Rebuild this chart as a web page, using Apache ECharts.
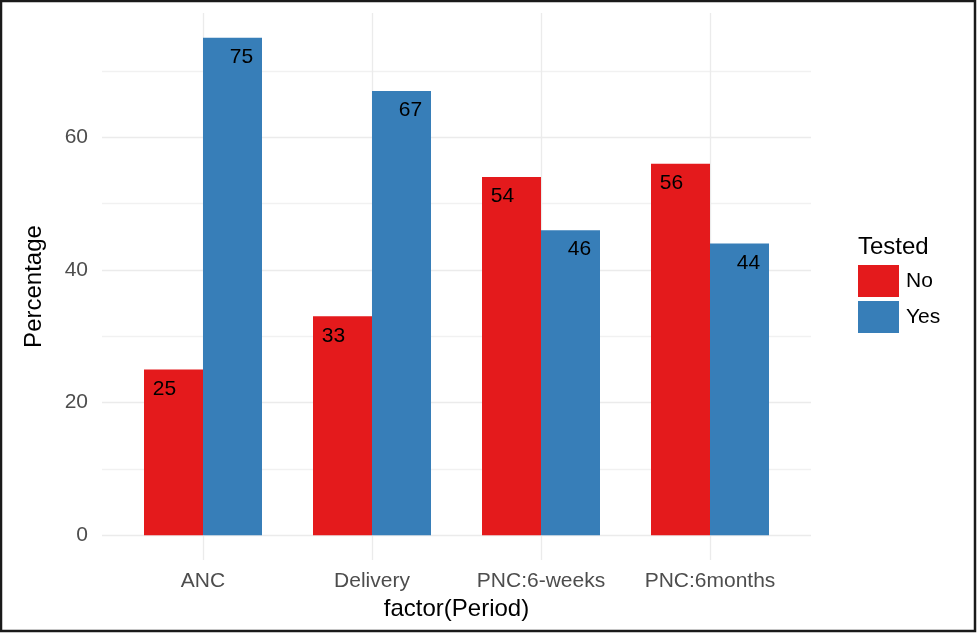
<!DOCTYPE html>
<html>
<head>
<meta charset="utf-8">
<script src="https://cdn.jsdelivr.net/npm/echarts@6/dist/echarts.min.js"></script>
<style>
html,body{margin:0;padding:0;background:#fff;}
#c{width:977px;height:633px;}
</style>
</head>
<body>
<div id="c"></div>
<script>
const categories = ['ANC', 'Delivery', 'PNC:6-weeks', 'PNC:6months'];
const seriesNames = ['No', 'Yes'];
const noValues = [25, 33, 54, 56];
const yesValues = [75, 67, 46, 44];
const yLabelTicks = [0, 20, 40, 60];
const yGridTicks = [0, 10, 20, 30, 40, 50, 60, 70];

const FONT = '"Liberation Sans", Arial, sans-serif';
const chart = echarts.init(document.getElementById('c'), null, {renderer: 'canvas'});

const labelCommon = {
  show: true,
  position: 'insideTop',
  distance: 9,
  color: '#000',
  fontFamily: FONT,
  fontSize: 21
};
const yMin = -3.75, yMax = 78.75;

chart.setOption({
  animation: false,
  backgroundColor: '#fff',
  grid: [
    {left: 102, right: 166, top: 13, bottom: 73, containLabel: false},
    {left: 118.5, right: 182.5, top: 13, bottom: 73, containLabel: false}
  ],
  xAxis: [
    {
      gridIndex: 0, type: 'value', min: 0, max: 1, show: false
    },
    {
      gridIndex: 1,
      type: 'category',
      data: categories,
      axisLine: {show: false},
      axisTick: {show: false},
      splitLine: {show: false},
      axisLabel: {color: '#4d4d4d', fontFamily: FONT, fontSize: 21, margin: 11, interval: 0, hideOverlap: false},
      name: 'factor(Period)',
      nameLocation: 'middle',
      nameGap: 36,
      nameTextStyle: {color: '#000', fontFamily: FONT, fontSize: 24}
    }
  ],
  yAxis: [
    {
      gridIndex: 0,
      type: 'value',
      min: yMin,
      max: yMax,
      axisLine: {show: false},
      axisTick: {show: false, customValues: yGridTicks},
      axisLabel: {color: '#4d4d4d', fontFamily: FONT, fontSize: 21, margin: 14, customValues: yLabelTicks},
      splitLine: {show: true, lineStyle: {color: ['#ebebeb', '#f1f1f1'], width: 1.3}},
      name: 'Percentage',
      nameLocation: 'middle',
      nameGap: 56,
      nameRotate: 90,
      nameTextStyle: {color: '#000', fontFamily: FONT, fontSize: 24}
    },
    {
      gridIndex: 1,
      type: 'value',
      min: yMin,
      max: yMax,
      show: false,
      splitLine: {show: false}
    }
  ],
  legend: {
    orient: 'vertical',
    left: 858,
    top: 265,
    icon: 'rect',
    itemWidth: 41,
    itemHeight: 32,
    itemGap: 4,
    padding: 0,
    textStyle: {color: '#000', fontFamily: FONT, fontSize: 21, padding: [0, 0, 0, 2]},
    data: seriesNames
  },
  graphic: [
    {type: 'text', left: 858, top: 235, style: {text: 'Tested', fill: '#000', font: '24px ' + FONT}},
    {type: 'rect', shape: {x: 1, y: 1, width: 974, height: 630}, style: {fill: 'none', stroke: '#1a1a1a', lineWidth: 2.5}, z: 100}
  ],
  series: [
    {
      name: 'gridlines',
      type: 'line',
      xAxisIndex: 1,
      yAxisIndex: 1,
      data: [],
      silent: true,
      z: 0,
      markLine: {
        silent: true,
        symbol: 'none',
        z: 0,
        label: {show: false},
        lineStyle: {color: '#ebebeb', width: 1.3, type: 'solid'},
        data: categories.map(c => ({xAxis: c}))
      }
    },
    {
      name: seriesNames[0],
      type: 'bar',
      xAxisIndex: 1,
      yAxisIndex: 1,
      data: noValues,
      barWidth: 59,
      barGap: '0%',
      itemStyle: {color: '#E41A1C'},
      label: Object.assign({}, labelCommon, {offset: [-9, 0]})
    },
    {
      name: seriesNames[1],
      type: 'bar',
      xAxisIndex: 1,
      yAxisIndex: 1,
      data: yesValues,
      barWidth: 59,
      barGap: '0%',
      itemStyle: {color: '#377EB8'},
      label: Object.assign({}, labelCommon, {offset: [9, 0]})
    }
  ]
});
</script>
</body>
</html>
